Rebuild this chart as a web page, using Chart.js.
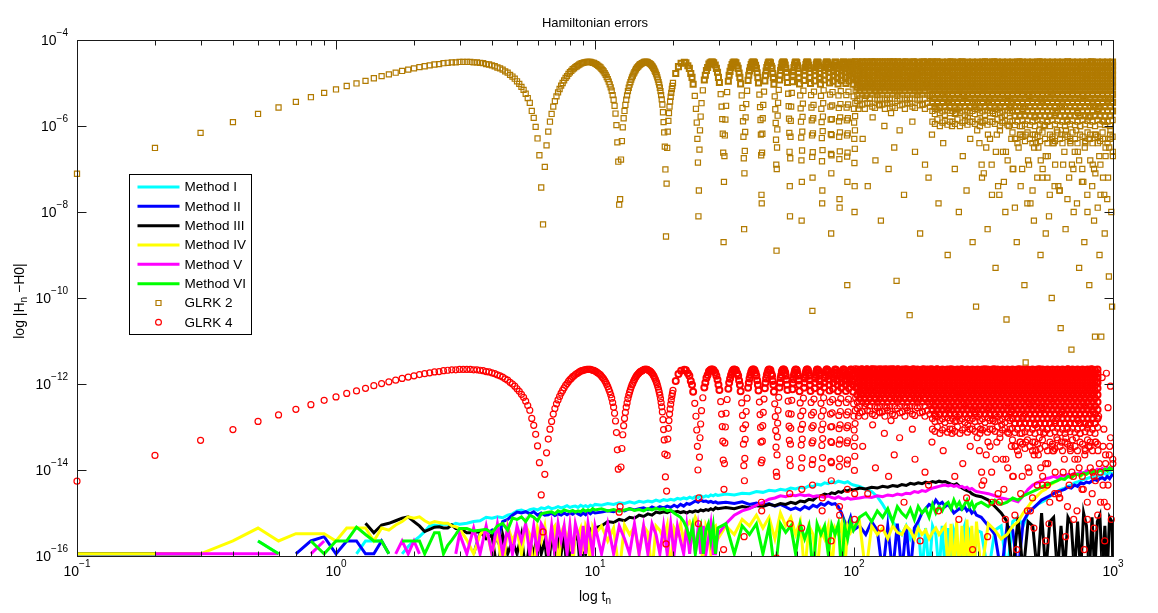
<!DOCTYPE html>
<html>
<head>
<meta charset="utf-8">
<title>Hamiltonian errors</title>
<script src="https://cdn.jsdelivr.net/npm/chart.js@4.4.1/dist/chart.umd.min.js"></script>
<style>
  html, body { margin: 0; padding: 0; background: #fff; }
  #wrap { width: 1158px; height: 613px; }
</style>
</head>
<body>
<div id="wrap"><canvas id="errChart" width="1158" height="613"></canvas></div>
<script>
// all values are log10 |H_n - H0|
const dt = 0.1; // integrator step, GLRK samples below start at t = dt

// time grid used for the six methods
const methodT = [
  0.1,0.2,0.3,0.4,0.5,0.6,0.7,0.8,0.9,1,1.1,1.2,1.3,1.4,1.5,1.6,1.7,1.8,1.9,2,2.1,2.2,2.3,2.4,2.5,2.6,2.7,2.8,2.9,3,
  3.2,3.4,3.6,3.8,4,4.2,4.4,4.6,4.8,5,5.2,5.4,5.6,5.8,6,6.2,6.4,6.6,6.8,7,7.2,7.4,7.6,7.8,8,8.2,8.4,8.6,8.8,9,9.2,9.4,9.6,9.8,10,
  10.6,11.2,11.8,12.4,13,13.6,14.2,14.8,15.4,16,16.6,17.2,17.8,18.4,19,19.6,20.2,20.8,21.4,22,22.6,23.2,23.8,24.4,25,25.6,26.2,26.8,27.4,28,28.6,29.2,29.8,
  32,34.5,37,39.5,42,44.5,47,49.5,52,54.5,57,59.5,62,64.5,67,69.5,72,74.5,77,79.5,82,84.5,87,89.5,92,94.5,97,99.5,
  105,111,117,123,129,135,141,147,153,159,165,171,177,183,189,195,201,207,213,219,225,231,237,243,249,255,261,267,273,279,285,291,297,
  310,330,350,370,390,410,430,450,470,490,510,530,550,570,590,610,630,650,670,690,710,730,750,770,790,810,830,850,870,890,910,930,950,970,990,1000
];

const method1 = [
  -15.95,-15.95,-15.95,null,-15.65,-15.95,null,null,null,null,null,-15.95,-15.65,-15.65,-15.65,null,null,-15.95,-15.78,-15.65,-15.55,-15.43,-15.3,-15.28,-15.3,-15.26,-15.26,-15.28,-15.24,-15.26,
  -15.24,-15.2,-15.18,-15.1,-15.12,-15.09,-15.11,-15.05,-15.02,-14.95,-14.93,-14.97,-14.92,-14.9,-14.93,-14.88,-14.9,-14.86,-14.9,-14.88,-14.85,-14.88,-14.86,-14.83,-14.87,-14.85,-14.84,-14.87,-14.82,-14.85,-14.83,-14.86,-14.82,-14.84,-14.8,
  -14.82,-14.78,-14.8,-14.76,-14.78,-14.74,-14.77,-14.73,-14.75,-14.72,-14.74,-14.7,-14.73,-14.69,-14.71,-14.68,-14.7,-14.66,-14.68,-14.65,-14.67,-14.63,-14.66,-14.62,-14.64,-14.6,-14.63,-14.6,-14.62,-14.58,-14.6,-14.57,-14.59,
  -14.56,-14.58,-14.54,-14.55,-14.5,-14.52,-14.47,-14.49,-14.45,-14.47,-14.42,-14.44,-14.4,-14.42,-14.37,-14.39,-14.33,-14.35,-14.3,-14.32,-14.27,-14.3,-14.26,-14.28,-14.3,-14.27,-14.32,-14.35,
  -14.38,-14.45,-14.5,-14.62,-14.8,-15.0,-15.2,-15.35,-15.5,-15.3,-15.6,-15.4,-15.3,-16.4,-15.35,-16.4,-15.3,-15.5,-16.4,-15.3,-16.4,-15.35,-16.4,-15.4,-15.6,-16.4,-15.5,-15.3,-16.4,-15.4,-15.5,-16.4,-15.4,
  -15.45,-16.4,-15.4,-15.3,-16.4,-15.2,-15.1,-15.3,-15.0,-14.9,-14.8,-14.75,-14.7,-14.62,-14.55,-14.5,-14.45,-14.42,-14.38,-14.35,-14.3,-14.28,-14.25,-14.22,-14.2,-14.18,-14.15,-14.2,-14.12,-14.15,-14.1,-14.08,-14.12,-14.05,-14.08,-14.1
];
const method2 = [
  -15.95,-15.95,-15.95,null,null,null,-15.95,-15.65,-15.55,-15.95,-15.65,-15.65,-15.95,-15.95,-15.65,-15.95,null,null,null,null,null,-15.95,null,null,-15.95,null,null,null,null,null,
  null,-15.95,-15.45,-15.5,-15.4,-15.65,-15.2,-15.15,-15.05,-14.98,-15.0,-14.97,-15.02,-14.97,-15.05,-15.0,-15.05,-15.04,-15.0,-15.06,-15.02,-15.05,-15.0,-15.04,-15.0,-15.03,-14.98,-15.02,-15.05,-15.0,-15.04,-14.98,-15.02,-14.97,-15.0,
  -14.98,-14.95,-14.97,-14.92,-14.95,-14.9,-14.93,-14.9,-14.88,-14.92,-14.86,-14.9,-14.85,-14.88,-14.84,-14.87,-14.82,-14.86,-14.8,-14.84,-14.78,-14.8,-14.76,-14.72,-14.75,-14.7,-14.73,-14.72,-14.75,-14.73,-14.76,-14.74,-14.77,
  -14.75,-14.78,-14.74,-14.8,-14.77,-14.82,-14.78,-14.84,-14.8,-14.86,-14.92,-14.88,-14.93,-14.85,-14.9,-14.82,-14.86,-14.78,-14.82,-14.75,-14.8,-14.78,-14.85,-15.0,-15.2,-15.3,-15.1,-15.4,
  -15.3,-15.5,-15.2,-15.4,-16.4,-15.3,-16.4,-15.25,-16.4,-15.3,-16.4,-15.35,-15.2,-15.0,-14.9,-14.8,-14.85,-14.7,-14.8,-14.75,-14.85,-14.8,-14.9,-15.0,-14.95,-14.9,-14.92,-14.85,-14.95,-14.9,-15.0,-14.95,-15.05,
  -15.1,-15.3,-15.5,-16.4,-15.3,-15.4,-16.4,-15.2,-15.0,-14.9,-14.8,-14.7,-14.65,-14.6,-14.55,-14.5,-14.48,-14.45,-14.4,-14.42,-14.35,-14.38,-14.3,-14.32,-14.28,-14.3,-14.25,-14.22,-14.25,-14.2,-14.18,-14.22,-14.15,-14.2,-14.12,-14.15
];
const method3 = [
  -15.95,-15.95,-15.95,null,null,null,null,null,null,null,null,null,-15.24,-15.46,-15.28,-15.24,-15.18,-15.12,-15.09,-15.2,-15.3,-15.43,-15.38,-15.33,-15.32,-15.35,-15.35,-15.28,-15.36,-15.36,
  -15.46,-15.46,-15.43,-15.6,-15.51,-16.4,-15.5,-15.95,-15.65,-15.95,-15.5,-16.4,-15.65,-15.95,-15.5,-15.95,-15.65,-16.4,-15.48,-15.95,-15.65,-15.95,-15.5,-16.4,-15.65,-15.95,-15.48,-15.65,-16.4,-15.5,-15.95,-15.6,-15.4,-15.5,-15.35,
  -15.3,-15.2,-15.22,-15.15,-15.18,-15.1,-15.12,-15.05,-15.08,-15.02,-15.05,-14.98,-15.0,-14.97,-14.99,-14.95,-14.98,-14.96,-14.99,-14.97,-15.0,-14.96,-14.98,-14.95,-14.97,-14.93,-14.95,-14.92,-14.94,-14.9,-14.93,-14.88,-14.9,
  -14.87,-14.9,-14.85,-14.88,-14.83,-14.85,-14.8,-14.83,-14.78,-14.8,-14.75,-14.78,-14.72,-14.74,-14.68,-14.7,-14.62,-14.6,-14.56,-14.58,-14.53,-14.55,-14.5,-14.52,-14.47,-14.49,-14.45,-14.47,
  -14.42,-14.44,-14.4,-14.42,-14.38,-14.4,-14.36,-14.38,-14.34,-14.36,-14.31,-14.33,-14.3,-14.32,-14.28,-14.3,-14.27,-14.29,-14.26,-14.28,-14.27,-14.3,-14.33,-14.35,-14.32,-14.38,-14.42,-14.45,-14.48,-14.5,-14.55,-14.58,-14.6,
  -14.62,-14.7,-14.85,-15.0,-15.2,-16.4,-15.1,-16.4,-15.2,-15.3,-16.4,-15.0,-16.4,-15.2,-15.1,-16.4,-15.3,-16.4,-15.1,-15.25,-16.4,-15.2,-16.4,-15.0,-15.3,-16.4,-15.1,-16.4,-15.2,-15.05,-16.4,-15.3,-16.4,-15.1,-15.2,-16.4
];
const method4 = [
  -15.95,-15.95,-15.95,-15.65,-15.35,-15.65,-15.48,-15.48,-15.48,-15.65,-15.35,-15.35,-15.35,-15.65,-15.35,-15.4,-15.28,-15.2,-15.09,-15.12,-15.09,-15.18,-15.24,-15.2,-15.22,-15.24,-15.24,-15.3,-15.32,-15.36,
  -15.63,-15.95,-15.5,-15.35,-15.95,-15.45,-16.4,-15.3,-15.65,-15.4,-15.95,-15.3,-15.5,-16.4,-15.35,-15.65,-15.3,-15.95,-15.4,-15.3,-16.4,-15.45,-15.3,-15.65,-15.35,-16.4,-15.3,-15.5,-15.35,-15.95,-15.3,-15.45,-16.4,-15.35,-15.5,
  -15.3,-15.65,-15.35,-16.4,-15.28,-15.5,-15.32,-15.95,-15.3,-15.45,-16.4,-15.3,-15.4,-15.6,-15.28,-16.4,-15.35,-15.5,-15.25,-15.65,-15.3,-15.2,-15.35,-15.1,-15.25,-15.5,-16.4,-15.3,-15.45,-15.95,-15.35,-15.3,-15.6,
  -15.3,-15.5,-15.15,-15.3,-15.05,-15.35,-15.1,-15.6,-15.0,-15.3,-15.1,-15.5,-15.2,-16.4,-15.3,-15.5,-16.4,-15.4,-15.6,-15.3,-16.4,-15.35,-15.5,-15.25,-16.4,-15.3,-15.45,-15.3,
  -15.2,-16.4,-15.3,-15.5,-15.35,-15.6,-15.3,-15.45,-15.5,-15.3,-15.4,-15.6,-15.35,-15.5,-15.4,-15.6,-15.45,-15.35,-15.5,-15.4,-15.3,-16.4,-15.25,-16.4,-15.2,-16.4,-15.3,-16.4,-15.15,-16.4,-15.3,-16.4,-15.2,
  -16.4,-15.25,-15.4,-15.6,-15.5,-15.3,-15.2,-15.0,-14.85,-14.7,-14.6,-14.5,-14.45,-14.35,-14.3,-14.25,-14.2,-14.22,-14.15,-14.18,-14.12,-14.1,-14.15,-14.08,-14.1,-14.05,-14.08,-14.02,-14.05,-14.0,-14.03,-13.98,-14.02,-13.97,-14.0,-13.98
];
const method5 = [
  null,-15.95,-15.95,-15.95,-15.95,-15.95,null,-15.95,-15.65,null,null,null,null,null,null,null,-15.95,-15.65,-15.95,-15.65,-15.95,null,null,null,null,null,null,null,-15.95,-15.48,
  -15.95,-15.35,-15.95,-15.3,-15.95,-15.25,-15.95,-15.35,-15.95,-15.3,-15.65,-15.25,-15.95,-15.3,-15.95,-15.25,-15.4,-15.95,-15.3,-15.95,-15.25,-15.65,-15.3,-15.95,-15.3,-15.95,-15.25,-15.5,-15.95,-15.3,-15.95,-15.25,-15.6,-15.95,-15.3,
  -15.95,-15.25,-15.95,-15.3,-15.6,-15.95,-15.25,-15.95,-15.3,-15.95,-15.25,-15.5,-15.95,-15.3,-15.95,-15.25,-15.95,-15.3,-15.65,-15.95,-15.3,-15.95,-15.25,-15.95,-15.35,-15.95,-15.3,-15.95,-15.6,-15.25,-15.95,-15.95,-15.5,
  -15.25,-15.05,-14.95,-14.9,-14.82,-14.75,-14.68,-14.65,-14.6,-14.62,-14.58,-14.6,-14.57,-14.6,-14.58,-14.62,-14.6,-14.62,-14.64,-14.6,-14.64,-14.66,-14.62,-14.66,-14.68,-14.65,-14.68,-14.67,
  -14.65,-14.62,-14.64,-14.6,-14.62,-14.58,-14.6,-14.56,-14.58,-14.54,-14.55,-14.5,-14.52,-14.48,-14.5,-14.45,-14.42,-14.4,-14.38,-14.36,-14.35,-14.37,-14.35,-14.38,-14.36,-14.4,-14.38,-14.42,-14.4,-14.45,-14.43,-14.47,-14.5,
  -14.52,-14.55,-14.6,-14.65,-14.68,-14.7,-14.74,-14.6,-14.45,-14.35,-14.3,-14.25,-14.2,-14.18,-14.15,-14.18,-14.12,-14.15,-14.1,-14.12,-14.08,-14.1,-14.05,-14.08,-14.02,-14.05,-14.0,-14.03,-13.98,-14.0,-13.96,-14.0,-13.95,-13.98,-13.94,-13.96
];
const method6 = [
  -15.95,null,null,null,-15.65,-15.95,null,-15.65,-15.95,-15.65,-15.65,-15.33,-15.5,-15.65,-15.65,-15.95,null,-15.65,-15.65,-15.65,-15.65,-15.95,-15.7,-15.46,-15.46,-15.95,-15.75,-15.63,-15.5,-15.36,
  -15.36,-15.42,-15.4,-15.38,-15.46,-15.3,-15.24,-15.4,-15.12,-15.15,-15.09,-15.2,-15.05,-15.1,-15.18,-15.02,-15.0,-14.98,-14.97,-15.02,-14.95,-14.98,-14.93,-14.95,-14.97,-14.94,-14.98,-14.95,-14.97,-14.92,-14.96,-14.93,-14.95,-14.9,-14.93,
  -14.9,-14.95,-14.92,-14.96,-14.93,-14.9,-14.94,-14.92,-14.95,-14.9,-14.93,-14.89,-14.92,-14.9,-14.95,-14.93,-15.0,-15.05,-15.1,-15.2,-15.35,-15.6,-15.3,-15.95,-15.5,-15.3,-15.95,-15.4,-15.25,-15.65,-15.3,-15.95,-15.35,
  -15.25,-15.95,-15.3,-15.5,-15.25,-15.95,-15.3,-16.4,-15.25,-15.45,-15.3,-15.95,-15.25,-15.6,-15.3,-16.4,-15.25,-15.5,-15.3,-15.95,-15.28,-15.5,-15.25,-16.4,-15.3,-15.6,-15.2,-15.4,
  -15.1,-15.0,-15.2,-14.95,-15.1,-14.9,-15.2,-14.85,-15.0,-15.1,-14.9,-15.15,-14.85,-15.0,-14.9,-15.1,-14.8,-15.0,-14.85,-14.95,-14.8,-14.75,-14.9,-14.7,-14.85,-14.75,-14.9,-14.8,-14.7,-14.85,-14.75,-14.9,-14.8,
  -14.75,-14.85,-14.7,-14.8,-14.75,-14.65,-14.7,-14.6,-14.55,-14.5,-14.45,-14.4,-14.35,-14.32,-14.28,-14.25,-14.2,-14.22,-14.15,-14.18,-14.12,-14.1,-14.13,-14.07,-14.1,-14.05,-14.08,-14.02,-14.05,-14.0,-14.03,-13.98,-14.02,-13.95,-13.98,-13.97
];

// GLRK errors for every step t = 0.1 ... 20.0
const glrk2Early = [
  -7.11,-6.51,-6.16,-5.91,-5.72,-5.57,-5.44,-5.33,-5.23,-5.15,-5.07,-5.01,-4.95,-4.89,-4.84,-4.80,-4.76,-4.72,-4.69,-4.66,
  -4.63,-4.61,-4.59,-4.57,-4.56,-4.54,-4.53,-4.52,-4.52,-4.51,-4.51,-4.51,-4.51,-4.52,-4.52,-4.53,-4.54,-4.56,-4.57,-4.59,
  -4.61,-4.64,-4.66,-4.69,-4.73,-4.76,-4.81,-4.85,-4.90,-4.96,-5.02,-5.09,-5.16,-5.25,-5.35,-5.46,-5.65,-5.81,-6.02,-6.29,
  -6.68,-7.43,-8.29,-6.95,-6.45,-6.13,-5.90,-5.72,-5.55,-5.42,-5.31,-5.22,-5.14,-5.06,-5.00,-4.94,-4.88,-4.84,-4.79,-4.75,
  -4.72,-4.68,-4.66,-4.63,-4.61,-4.59,-4.57,-4.55,-4.54,-4.53,-4.52,-4.52,-4.51,-4.51,-4.51,-4.51,-4.52,-4.53,-4.53,-4.55,
  -4.56,-4.58,-4.60,-4.62,-4.64,-4.67,-4.70,-4.73,-4.77,-4.81,-4.86,-4.91,-4.97,-5.03,-5.10,-5.18,-5.28,-5.39,-5.53,-5.71,
  -5.98,-6.38,-6.83,-7.83,-7.70,-6.78,-6.35,-6.03,-5.82,-5.65,-5.51,-5.39,-5.29,-5.19,-5.11,-5.04,-4.98,-4.92,-4.87,-4.83,
  -4.78,-4.75,-4.71,-4.68,-4.65,-4.63,-4.61,-4.59,-4.57,-4.56,-4.55,-4.54,-4.53,-4.52,-4.51,-4.51,-4.51,-4.51,-4.51,-4.52,
  -4.53,-4.54,-4.55,-4.56,-4.58,-4.60,-4.62,-4.65,-4.67,-4.71,-4.74,-4.78,-4.82,-4.87,-4.92,-4.98,-5.04,-5.11,-5.19,-5.28,
  -5.38,-5.50,-5.68,-5.91,-6.15,-6.48,-7.01,-8.57,-7.34,-6.51,-6.13,-5.88,-5.70,-5.55,-5.43,-5.32,-5.23,-5.14,-5.07,-5.00
];
const glrk4Early = [
  -14.26,-13.66,-13.31,-13.06,-12.87,-12.72,-12.59,-12.48,-12.38,-12.30,-12.22,-12.16,-12.10,-12.04,-11.99,-11.95,-11.91,-11.87,-11.84,-11.81,
  -11.78,-11.76,-11.74,-11.72,-11.71,-11.69,-11.68,-11.67,-11.67,-11.66,-11.66,-11.66,-11.66,-11.67,-11.67,-11.68,-11.69,-11.71,-11.72,-11.74,
  -11.76,-11.79,-11.81,-11.84,-11.88,-11.91,-11.96,-12.00,-12.05,-12.11,-12.17,-12.24,-12.31,-12.40,-12.50,-12.61,-12.80,-12.96,-13.17,-13.44,
  -13.83,-14.58,-15.44,-14.10,-13.60,-13.28,-13.05,-12.87,-12.70,-12.57,-12.46,-12.37,-12.29,-12.21,-12.15,-12.09,-12.03,-11.99,-11.94,-11.90,
  -11.87,-11.83,-11.81,-11.78,-11.76,-11.74,-11.72,-11.70,-11.69,-11.68,-11.67,-11.67,-11.66,-11.66,-11.66,-11.66,-11.67,-11.68,-11.68,-11.70,
  -11.71,-11.73,-11.75,-11.77,-11.79,-11.82,-11.85,-11.88,-11.92,-11.96,-12.01,-12.06,-12.12,-12.18,-12.25,-12.33,-12.43,-12.54,-12.68,-12.86,
  -13.13,-13.53,-13.98,-14.98,-14.85,-13.93,-13.50,-13.18,-12.97,-12.80,-12.66,-12.54,-12.44,-12.34,-12.26,-12.19,-12.13,-12.07,-12.02,-11.98,
  -11.93,-11.90,-11.86,-11.83,-11.80,-11.78,-11.76,-11.74,-11.72,-11.71,-11.70,-11.69,-11.68,-11.67,-11.66,-11.66,-11.66,-11.66,-11.66,-11.67,
  -11.68,-11.69,-11.70,-11.71,-11.73,-11.75,-11.77,-11.80,-11.82,-11.86,-11.89,-11.93,-11.97,-12.02,-12.07,-12.13,-12.19,-12.26,-12.34,-12.43,
  -12.53,-12.65,-12.83,-13.06,-13.30,-13.63,-14.16,-15.72,-14.49,-13.66,-13.28,-13.03,-12.85,-12.70,-12.58,-12.47,-12.38,-12.29,-12.22,-12.15
];

// GLRK samples picked out of the arches between t = 20 and 103 (legs and dips)
const archT = [
  20.5,21,21.5,
  22.13,22.83,23.43,23.93,24.28,24.53,24.71,24.85,24.97,25.08,25.18,25.31,25.43,25.58,25.78,26.08,26.43,26.93,27.53,
  28.42,29.12,29.72,30.22,30.57,30.82,31.0,31.14,31.26,31.37,31.47,31.6,31.72,31.87,32.07,32.37,32.72,33.22,33.82,
  34.7,35.4,36.0,36.5,36.85,37.1,37.28,37.42,37.54,37.65,37.75,37.88,38.0,38.15,38.35,38.65,39.0,39.5,40.1,
  40.98,41.68,42.28,42.78,43.13,43.38,43.56,43.7,43.82,43.93,44.03,44.16,44.28,44.43,44.63,44.93,45.28,45.78,46.38,
  47.27,47.97,48.57,49.07,49.42,49.67,49.85,49.99,50.11,50.22,50.32,50.45,50.57,50.72,50.92,51.22,51.57,52.07,52.67,
  53.55,54.25,54.85,55.35,55.7,55.95,56.13,56.27,56.39,56.5,56.6,56.73,56.85,57.0,57.2,57.5,57.85,58.35,58.95,
  59.83,60.53,61.13,61.63,61.98,62.23,62.41,62.55,62.67,62.78,62.88,63.01,63.13,63.28,63.48,63.78,64.13,64.63,65.23,
  66.12,66.82,67.42,67.92,68.27,68.52,68.7,68.84,68.96,69.07,69.17,69.3,69.42,69.57,69.77,70.07,70.42,70.92,71.52,
  72.4,73.1,73.7,74.2,74.55,74.8,74.98,75.12,75.24,75.35,75.45,75.58,75.7,75.85,76.05,76.35,76.7,77.2,77.8,
  78.68,79.38,79.98,80.48,80.83,81.08,81.26,81.4,81.52,81.63,81.73,81.86,81.98,82.13,82.33,82.63,82.98,83.48,84.08,
  84.96,85.66,86.26,86.76,87.11,87.36,87.54,87.68,87.8,87.91,88.01,88.14,88.26,88.41,88.61,88.91,89.26,89.76,90.36,
  91.25,91.95,92.55,93.05,93.4,93.65,93.83,93.97,94.09,94.2,94.3,94.43,94.55,94.7,94.9,95.2,95.55,96.05,96.65,
  97.53,98.23,98.83,99.33,99.68,99.93,100.11,100.25,100.37,100.48,100.58,100.71,100.83,100.98,101.18,101.48,101.83,102.33,102.93
];
const glrk2Arch = [
  -4.78,-4.62,-4.54,
  -4.52,-4.60,-4.78,-5.03,-5.30,-5.60,-5.92,-6.30,-6.85,-8.10,-7.50,-6.55,-6.10,-5.78,-5.47,-5.17,-4.93,-4.71,-4.56,
  -4.51,-4.58,-4.75,-4.99,-5.26,-5.55,-5.84,-6.18,-6.62,-8.70,-7.30,-6.70,-6.22,-5.85,-5.53,-5.21,-4.96,-4.73,-4.57,
  -4.52,-4.60,-4.77,-5.02,-5.29,-5.58,-5.89,-6.25,-6.75,-8.40,-7.10,-6.58,-6.14,-5.80,-5.49,-5.18,-4.94,-4.72,-4.57,
  -4.51,-4.59,-4.76,-5.00,-5.27,-5.56,-5.86,-6.20,-6.68,-7.60,-7.80,-6.62,-6.18,-5.82,-5.51,-5.20,-4.95,-4.72,-4.58,
  -4.52,-4.61,-4.78,-5.03,-5.31,-5.61,-5.93,-6.32,-6.90,-8.90,-7.00,-6.50,-6.08,-5.76,-5.46,-5.16,-4.93,-4.71,-4.56,
  -4.51,-4.58,-4.75,-4.99,-5.25,-5.54,-5.83,-6.16,-6.60,-7.40,-8.10,-6.75,-6.25,-5.88,-5.55,-5.23,-4.97,-4.74,-4.58,
  -4.52,-4.60,-4.77,-5.02,-5.29,-5.59,-5.90,-6.27,-6.80,-8.20,-7.30,-6.57,-6.13,-5.79,-5.48,-5.18,-4.94,-4.72,-4.57,
  -4.51,-4.59,-4.76,-5.01,-5.28,-5.57,-5.87,-6.22,-6.72,-10.30,-7.20,-6.61,-6.17,-5.82,-5.51,-5.20,-4.95,-4.72,-4.57,
  -4.52,-4.60,-4.78,-5.03,-5.30,-5.60,-5.91,-6.28,-6.82,-7.80,-7.50,-6.56,-6.12,-5.78,-5.47,-5.17,-4.93,-4.71,-4.56,
  -4.51,-4.58,-4.75,-5.00,-5.27,-5.55,-5.85,-6.19,-6.65,-8.50,-7.10,-6.68,-6.21,-5.84,-5.52,-5.21,-4.96,-4.73,-4.58,
  -4.52,-4.60,-4.77,-5.02,-5.29,-5.58,-5.89,-6.25,-6.77,-7.70,-7.90,-6.59,-6.15,-5.80,-5.49,-5.19,-4.94,-4.72,-4.57,
  -4.51,-4.59,-4.76,-5.01,-5.28,-5.57,-5.87,-6.22,-6.71,-9.70,-7.30,-6.62,-6.17,-5.82,-5.50,-5.20,-4.95,-4.72,-4.57,
  -4.52,-4.61,-4.78,-5.03,-5.31,-5.60,-5.92,-6.30,-6.86,-8.00,-7.40,-6.53,-6.10,-5.77,-5.47,-5.17,-4.93,-4.71,-4.56
];
const glrk4Arch = [
  -11.93,-11.77,-11.69,
  -11.67,-11.75,-11.93,-12.18,-12.45,-12.75,-13.07,-13.45,-14.00,-15.25,-14.65,-13.70,-13.25,-12.93,-12.62,-12.32,-12.08,-11.86,-11.71,
  -11.66,-11.73,-11.90,-12.14,-12.41,-12.70,-12.99,-13.33,-13.77,-15.85,-14.45,-13.85,-13.37,-13.00,-12.68,-12.36,-12.11,-11.88,-11.72,
  -11.67,-11.75,-11.92,-12.17,-12.44,-12.73,-13.04,-13.40,-13.90,-15.55,-14.25,-13.73,-13.29,-12.95,-12.64,-12.33,-12.09,-11.87,-11.72,
  -11.66,-11.74,-11.91,-12.15,-12.42,-12.71,-13.01,-13.35,-13.83,-14.75,-14.95,-13.77,-13.33,-12.97,-12.66,-12.35,-12.10,-11.87,-11.73,
  -11.67,-11.76,-11.93,-12.18,-12.46,-12.76,-13.08,-13.47,-14.05,-16.05,-14.15,-13.65,-13.23,-12.91,-12.61,-12.31,-12.08,-11.86,-11.71,
  -11.66,-11.73,-11.90,-12.14,-12.40,-12.69,-12.98,-13.31,-13.75,-14.55,-15.25,-13.90,-13.40,-13.03,-12.70,-12.38,-12.12,-11.89,-11.73,
  -11.67,-11.75,-11.92,-12.17,-12.44,-12.74,-13.05,-13.42,-13.95,-15.35,-14.45,-13.72,-13.28,-12.94,-12.63,-12.33,-12.09,-11.87,-11.72,
  -11.66,-11.74,-11.91,-12.16,-12.43,-12.72,-13.02,-13.37,-13.87,-17.45,-14.35,-13.76,-13.32,-12.97,-12.66,-12.35,-12.10,-11.87,-11.72,
  -11.67,-11.75,-11.93,-12.18,-12.45,-12.75,-13.06,-13.43,-13.97,-14.95,-14.65,-13.71,-13.27,-12.93,-12.62,-12.32,-12.08,-11.86,-11.71,
  -11.66,-11.73,-11.90,-12.15,-12.42,-12.70,-13.00,-13.34,-13.80,-15.65,-14.25,-13.83,-13.36,-12.99,-12.67,-12.36,-12.11,-11.88,-11.73,
  -11.67,-11.75,-11.92,-12.17,-12.44,-12.73,-13.04,-13.40,-13.92,-14.85,-15.05,-13.74,-13.30,-12.95,-12.64,-12.34,-12.09,-11.87,-11.72,
  -11.66,-11.74,-11.91,-12.16,-12.43,-12.72,-13.02,-13.37,-13.86,-16.85,-14.45,-13.77,-13.32,-12.97,-12.65,-12.35,-12.10,-11.87,-11.72,
  -11.67,-11.76,-11.93,-12.18,-12.46,-12.75,-13.07,-13.45,-14.01,-15.15,-14.55,-13.68,-13.25,-12.92,-12.62,-12.32,-12.08,-11.86,-11.71
];

// samples around the tops of the same arches
const archTopT = [
  22.44,23.14,23.69,
  26.67,27.22,27.82,28.12,28.72,29.42,29.97,
  32.96,33.51,34.11,34.41,35.01,35.71,36.26,
  39.24,39.79,40.39,40.69,41.29,41.99,42.54,
  45.52,46.07,46.67,46.97,47.57,48.27,48.82,
  51.81,52.36,52.96,53.26,53.86,54.56,55.11,
  58.09,58.64,59.24,59.54,60.14,60.84,61.39,
  64.37,64.92,65.52,65.82,66.42,67.12,67.67,
  70.66,71.21,71.81,72.11,72.71,73.41,73.96,
  76.94,77.49,78.09,78.39,78.99,79.69,80.24,
  83.22,83.77,84.37,84.67,85.27,85.97,86.52,
  89.51,90.06,90.66,90.96,91.56,92.26,92.81,
  95.79,96.34,96.94,97.24,97.84,98.54,99.09
];
const glrk2ArchTop = [
  -4.53,-4.66,-4.87,
  -4.82,-4.64,-4.53,-4.51,-4.53,-4.66,-4.87,
  -4.82,-4.64,-4.53,-4.51,-4.53,-4.66,-4.87,
  -4.82,-4.64,-4.53,-4.51,-4.53,-4.66,-4.87,
  -4.82,-4.64,-4.53,-4.51,-4.53,-4.66,-4.87,
  -4.82,-4.64,-4.53,-4.51,-4.53,-4.66,-4.87,
  -4.82,-4.64,-4.53,-4.51,-4.53,-4.66,-4.87,
  -4.82,-4.64,-4.53,-4.51,-4.53,-4.66,-4.87,
  -4.82,-4.64,-4.53,-4.51,-4.53,-4.66,-4.87,
  -4.82,-4.64,-4.53,-4.51,-4.53,-4.66,-4.87,
  -4.82,-4.64,-4.53,-4.51,-4.53,-4.66,-4.87,
  -4.82,-4.64,-4.53,-4.51,-4.53,-4.66,-4.87,
  -4.82,-4.64,-4.53,-4.51,-4.53,-4.66,-4.87
];
const glrk4ArchTop = [
  -11.68,-11.81,-12.02,
  -11.97,-11.79,-11.68,-11.66,-11.68,-11.81,-12.02,
  -11.97,-11.79,-11.68,-11.66,-11.68,-11.81,-12.02,
  -11.97,-11.79,-11.68,-11.66,-11.68,-11.81,-12.02,
  -11.97,-11.79,-11.68,-11.66,-11.68,-11.81,-12.02,
  -11.97,-11.79,-11.68,-11.66,-11.68,-11.81,-12.02,
  -11.97,-11.79,-11.68,-11.66,-11.68,-11.81,-12.02,
  -11.97,-11.79,-11.68,-11.66,-11.68,-11.81,-12.02,
  -11.97,-11.79,-11.68,-11.66,-11.68,-11.81,-12.02,
  -11.97,-11.79,-11.68,-11.66,-11.68,-11.81,-12.02,
  -11.97,-11.79,-11.68,-11.66,-11.68,-11.81,-12.02,
  -11.97,-11.79,-11.68,-11.66,-11.68,-11.81,-12.02,
  -11.97,-11.79,-11.68,-11.66,-11.68,-11.81,-12.02
];

// scattered GLRK samples for t > 100 where the arches merge
const lateT = [
  101,102,103,104,105,106,107,108,109,110,111,112,113,114,115,116,117,118,119,120,121,122,123,124,125,
  126,127,128,129,130,131,132,133,134,135,136,137,138,139,140,141,142,143,144,145,146,147,148,149,150,
  152,154,156,158,160,162,164,166,168,170,172,174,176,178,180,182,184,186,188,190,192,194,196,198,200,
  203,206,209,212,215,218,221,224,227,230,233,236,239,242,245,248,251,254,257,260,263,266,269,272,275,278,281,284,287,290,293,296,299,
  304,308,312,316,320,324,328,332,336,340,344,348,352,356,360,364,368,372,376,380,384,388,392,396,400,
  405,410,415,420,425,430,435,440,445,450,455,460,465,470,475,480,485,490,495,500,
  505,510,515,520,525,530,535,540,545,550,555,560,565,570,575,580,585,590,595,600,
  607,614,621,628,635,642,649,656,663,670,677,684,691,698,705,712,719,726,733,740,747,754,761,768,775,782,789,796,
  803,810,817,824,831,838,845,852,859,866,873,880,887,894,901,908,915,922,929,936,943,950,957,964,971,978,985,992,999
];
const glrk2Late = [
  -4.5,-4.9,-4.6,-5.6,-4.7,-5.1,-4.5,-6.3,-4.8,-4.6,-5.3,-4.5,-7.4,-4.9,-4.6,-5.0,-4.5,-5.8,-4.7,-4.5,-6.8,-5.2,-4.6,-4.8,-5.5,
  -4.5,-8.2,-4.7,-5.0,-4.6,-6.0,-4.5,-4.9,-5.4,-4.6,-7.0,-4.8,-4.5,-5.7,-4.7,-5.1,-4.5,-6.5,-4.9,-4.6,-9.6,-5.2,-4.5,-4.8,-6.1,
  -4.6,-5.0,-7.6,-4.5,-5.4,-4.7,-10.4,-4.9,-5.9,-4.5,-6.6,-4.8,-5.2,-4.6,-8.5,-4.7,-5.5,-4.5,-6.9,-5.0,-4.6,-7.2,-5.3,-4.5,-6.2,
  -4.8,-5.6,-4.5,-7.8,-5.0,-4.6,-6.4,-5.2,-4.7,-9.0,-5.4,-4.5,-6.0,-4.9,-7.0,-5.7,-4.6,-8.0,-5.1,-4.5,-6.7,-5.3,-4.8,-7.5,-5.8,-4.6,-6.3,-5.0,-8.7,-4.7,-5.5,-10.2,-6.1,
  -4.6,-5.9,-7.2,-5.1,-4.5,-6.5,-8.4,-5.4,-4.7,-6.9,-5.7,-4.5,-9.3,-6.2,-5.0,-7.6,-4.6,-5.8,-6.6,-4.8,-8.0,-10.5,-5.3,-6.0,-4.6,
  -5.5,-7.0,-4.7,-6.3,-8.7,-5.1,-4.5,-7.4,-6.0,-5.6,-9.7,-11.5,-4.8,-6.8,-5.3,-7.8,-4.6,-6.2,-8.2,-5.8,
  -4.9,-7.2,-6.5,-4.5,-9.0,-5.4,-7.0,-6.0,-4.7,-8.5,-5.9,-6.7,-4.6,-7.6,-5.2,-10.0,-6.4,-4.8,-7.4,-5.7,
  -6.1,-4.6,-7.5,-10.7,-5.5,-6.9,-4.8,-8.4,-5.9,-4.5,-7.2,-6.3,-11.2,-5.1,-8.0,-6.6,-4.7,-7.8,-5.7,-9.3,-6.0,-4.6,-7.0,-5.3,-8.7,-6.4,-4.9,-7.6,
  -5.8,-9.7,-6.8,-4.5,-7.4,-5.5,-8.2,-10.9,-6.2,-4.8,-7.9,-5.6,-9.0,-6.9,-10.9,-4.7,-7.2,-5.9,-8.5,-6.5,-4.6,-7.7,-5.4,-9.5,-6.3,-4.9,-8.0,-10.2,-6.7
];
const glrk4Late = [
  -11.65,-12.05,-11.75,-12.75,-11.85,-12.25,-11.65,-13.45,-11.95,-11.75,-12.45,-11.65,-14.55,-12.05,-11.75,-12.15,-11.65,-12.95,-11.85,-11.65,-13.95,-12.35,-11.75,-11.95,-12.65,
  -11.65,-15.35,-11.85,-12.15,-11.75,-13.15,-11.65,-12.05,-12.55,-11.75,-14.15,-11.95,-11.65,-12.85,-11.85,-12.25,-11.65,-13.65,-12.05,-11.75,-16.75,-12.35,-11.65,-11.95,-13.25,
  -11.75,-12.15,-14.75,-11.65,-12.55,-11.85,-17.55,-12.05,-13.05,-11.65,-13.75,-11.95,-12.35,-11.75,-15.65,-11.85,-12.65,-11.65,-14.05,-12.15,-11.75,-14.35,-12.45,-11.65,-13.35,
  -11.95,-12.75,-11.65,-14.95,-12.15,-11.75,-13.55,-12.35,-11.85,-16.15,-12.55,-11.65,-13.15,-12.05,-14.15,-12.85,-11.75,-15.15,-12.25,-11.65,-13.85,-12.45,-11.95,-14.65,-12.95,-11.75,-13.45,-12.15,-15.85,-11.85,-12.65,-17.35,-13.25,
  -11.75,-13.05,-14.35,-12.25,-11.65,-13.65,-15.55,-12.55,-11.85,-14.05,-12.85,-11.65,-16.45,-13.35,-12.15,-14.75,-11.75,-12.95,-13.75,-11.95,-15.15,-17.65,-12.45,-13.15,-11.75,
  -12.65,-14.15,-11.85,-13.45,-15.85,-12.25,-11.65,-14.55,-13.15,-12.75,-16.85,-18.65,-11.95,-13.95,-12.45,-14.95,-11.75,-13.35,-15.35,-12.95,
  -12.05,-14.35,-13.65,-11.65,-16.15,-12.55,-14.15,-13.15,-11.85,-15.65,-13.05,-13.85,-11.75,-14.75,-12.35,-17.15,-13.55,-11.95,-14.55,-12.85,
  -13.25,-11.75,-14.65,-17.85,-12.65,-14.05,-11.95,-15.55,-13.05,-11.65,-14.35,-13.45,-18.35,-12.25,-15.15,-13.75,-11.85,-14.95,-12.85,-16.45,-13.15,-11.75,-14.15,-12.45,-15.85,-13.55,-12.05,-14.75,
  -12.95,-16.85,-13.95,-11.65,-14.55,-12.65,-15.35,-18.05,-13.35,-11.95,-15.05,-12.75,-16.15,-14.05,-18.05,-11.85,-14.35,-13.05,-15.65,-13.65,-11.75,-14.85,-12.55,-16.65,-13.45,-12.05,-15.15,-17.35,-13.85
];

// more of the scatter just under the band, t = 300 ... 1000
const midT = [
  305,317,329,341,353,366,379,392,405,418,432,446,460,474,489,504,519,534,550,566,582,598,615,632,649,667,685,703,721,740,
  759,778,797,816,835,855,875,895,915,936,957,978,998,
  311,335,360,386,412,439,467,496,526,558,590,623,658,694,731,768,806,845,885,925,967
];
const glrk2Mid = [
  -6.4,-7.1,-6.2,-7.6,-6.6,-6.1,-7.3,-6.8,-6.3,-7.9,-6.5,-7.0,-6.2,-6.9,-7.5,-6.4,-6.1,-7.2,-6.7,-8.1,-6.3,-6.9,-7.4,-6.2,-6.6,-7.7,-6.4,-7.0,-6.1,-6.8,
  -7.3,-6.5,-8.0,-6.2,-6.9,-7.1,-6.4,-7.6,-6.3,-6.7,-7.2,-6.1,-6.6,
  -6.9,-6.3,-7.4,-6.6,-7.0,-6.2,-7.8,-6.5,-6.8,-7.2,-6.4,-7.5,-6.1,-6.9,-6.6,-7.3,-6.3,-7.0,-6.7,-7.6,-6.5
];
const glrk4Mid = [
  -13.55,-14.25,-13.35,-14.75,-13.75,-13.25,-14.45,-13.95,-13.45,-15.05,-13.65,-14.15,-13.35,-14.05,-14.65,-13.55,-13.25,-14.35,-13.85,-15.25,-13.45,-14.05,-14.55,-13.35,-13.75,-14.85,-13.55,-14.15,-13.25,-13.95,
  -14.45,-13.65,-15.15,-13.35,-14.05,-14.25,-13.55,-14.75,-13.45,-13.85,-14.35,-13.25,-13.75,
  -14.05,-13.45,-14.55,-13.75,-14.15,-13.35,-14.95,-13.65,-13.95,-14.35,-13.55,-14.65,-13.25,-14.05,-13.75,-14.45,-13.45,-14.15,-13.85,-14.75,-13.65
];

// saturated top band for t > 100: one time per column, the samples stacked in that column
const colT = [
  103,105.3,107.7,110.1,112.6,115.1,117.7,120.4,123.1,125.9,128.7,131.6,134.5,137.6,140.7,143.8,147,150.4,153.7,157.2,
  160.7,164.4,168.1,171.8,175.7,179.6,183.7,187.8,192,196.4,200.8,205.3,209.9,214.6,219.5,224.4,229.5,234.6,239.9,245.3,
  250.8,256.5,262.2,268.1,274.2,280.4,286.6,293.1,299.7,306.4,313.3,320.4,327.6,334.9,342.5,350.2,358,366.1,374.3,382.7,
  391.3,400.1,409.1,418.3,427.7,437.3,447.2,457.2,467.5,478,488.8,499.8,511,522.5,534.2,546.2,558.5,571.1,583.9,597,
  610.5,624.2,638.2,652.6,667.3,682.3,697.6,713.3,729.4,745.8,762.6,779.7,797.3,815.2,833.6,852.3,871.5,891.1,911.2,931.7,
  952.6,974.1,996
];
const glrk2Cols = [
  [-4.51,-4.6,-4.7,-4.82,-4.95,-5.1,-5.27,-5.42],[-4.53,-4.64,-4.76,-4.88,-5.02,-5.18,-5.36,-5.52],
  [-4.51,-4.6,-4.7,-4.82,-4.95,-5.1,-5.27,-5.5],[-4.53,-4.64,-4.76,-4.88,-5.02,-5.18,-5.36,-5.6],
  [-4.51,-4.6,-4.7,-4.82,-4.95,-5.1,-5.27,-5.46],[-4.53,-4.64,-4.76,-4.88,-5.02,-5.18,-5.36,-5.48],
  [-4.51,-4.6,-4.7,-4.82,-4.95,-5.1,-5.27,-5.55],[-4.53,-4.64,-4.76,-4.88,-5.02,-5.18,-5.36,-5.58],
  [-4.51,-4.6,-4.7,-4.82,-4.95,-5.1,-5.27,-5.4],[-4.53,-4.64,-4.76,-4.88,-5.02,-5.18,-5.36,-5.52],
  [-4.51,-4.6,-4.7,-4.82,-4.95,-5.1,-5.27,-5.5],[-4.53,-4.64,-4.76,-4.88,-5.02,-5.18,-5.36,-5.6],
  [-4.51,-4.6,-4.7,-4.82,-4.95,-5.1,-5.27,-5.46],[-4.53,-4.64,-4.76,-4.88,-5.02,-5.18,-5.36,-5.48],
  [-4.51,-4.6,-4.7,-4.82,-4.95,-5.1,-5.27,-5.55],[-4.53,-4.64,-4.76,-4.88,-5.02,-5.18,-5.36,-5.58],
  [-4.51,-4.6,-4.7,-4.82,-4.95,-5.1,-5.27,-5.42],[-4.53,-4.64,-4.76,-4.88,-5.02,-5.18,-5.36,-5.52],
  [-4.51,-4.6,-4.7,-4.82,-4.95,-5.1,-5.27,-5.5],[-4.53,-4.64,-4.76,-4.88,-5.02,-5.18,-5.36,-5.6],
  [-4.51,-4.6,-4.7,-4.82,-4.95,-5.1,-5.27,-5.46],[-4.53,-4.64,-4.76,-4.88,-5.02,-5.18,-5.36,-5.48],
  [-4.51,-4.6,-4.7,-4.82,-4.95,-5.1,-5.27,-5.55],[-4.53,-4.64,-4.76,-4.88,-5.02,-5.18,-5.36,-5.58],
  [-4.51,-4.6,-4.7,-4.82,-4.95,-5.1,-5.27,-5.4],[-4.53,-4.64,-4.76,-4.88,-5.02,-5.18,-5.36,-5.52],
  [-4.51,-4.6,-4.7,-4.82,-4.95,-5.1,-5.27,-5.5],[-4.53,-4.64,-4.76,-4.88,-5.02,-5.18,-5.36,-5.6],
  [-4.51,-4.6,-4.7,-4.82,-4.95,-5.1,-5.27,-5.46],[-4.53,-4.64,-4.76,-4.88,-5.02,-5.18,-5.36,-5.55],
  [-4.51,-4.6,-4.7,-4.82,-4.95,-5.1,-5.27,-5.45,-5.65,-5.9],[-4.53,-4.64,-4.76,-4.88,-5.02,-5.18,-5.36,-5.55,-5.72,-5.95],
  [-4.51,-4.6,-4.7,-4.82,-4.95,-5.1,-5.27,-5.45,-5.62,-5.85],[-4.53,-4.64,-4.76,-4.88,-5.02,-5.18,-5.36,-5.55,-5.7,-6.0],
  [-4.51,-4.6,-4.7,-4.82,-4.95,-5.1,-5.27,-5.45,-5.66,-5.92],[-4.53,-4.64,-4.76,-4.88,-5.02,-5.18,-5.36,-5.55,-5.74,-5.88],
  [-4.51,-4.6,-4.7,-4.82,-4.95,-5.1,-5.27,-5.45,-5.64,-5.97],[-4.53,-4.64,-4.76,-4.88,-5.02,-5.18,-5.36,-5.55,-5.7,-5.9],
  [-4.51,-4.6,-4.7,-4.82,-4.95,-5.1,-5.27,-5.45,-5.65,-5.9],[-4.53,-4.64,-4.76,-4.88,-5.02,-5.18,-5.36,-5.55,-5.72,-5.95],
  [-4.51,-4.6,-4.7,-4.82,-4.95,-5.1,-5.27,-5.45,-5.62,-5.85],[-4.53,-4.64,-4.76,-4.88,-5.02,-5.18,-5.36,-5.55,-5.7,-6.0],
  [-4.51,-4.6,-4.7,-4.82,-4.95,-5.1,-5.27,-5.45,-5.66,-5.92],[-4.53,-4.64,-4.76,-4.88,-5.02,-5.18,-5.36,-5.55,-5.74,-5.88],
  [-4.51,-4.6,-4.7,-4.82,-4.95,-5.1,-5.27,-5.45,-5.64,-5.97],[-4.53,-4.64,-4.76,-4.88,-5.02,-5.18,-5.36,-5.55,-5.7,-5.9],
  [-4.51,-4.6,-4.7,-4.82,-4.95,-5.1,-5.27,-5.45,-5.65,-5.9],[-4.53,-4.64,-4.76,-4.88,-5.02,-5.18,-5.36,-5.55,-5.72,-5.95],
  [-4.51,-4.6,-4.7,-4.82,-4.95,-5.1,-5.27,-5.45,-5.62,-5.85],[-4.53,-4.64,-4.76,-4.88,-5.02,-5.18,-5.36,-5.55,-5.7,-6.0],
  [-4.51,-4.6,-4.7,-4.82,-4.95,-5.1,-5.27,-5.45,-5.66,-5.92],[-4.53,-4.64,-4.76,-4.88,-5.02,-5.18,-5.36,-5.55,-5.74,-5.88],
  [-4.51,-4.6,-4.7,-4.82,-4.95,-5.1,-5.27,-5.45,-5.64,-5.97],[-4.53,-4.64,-4.76,-4.88,-5.02,-5.18,-5.36,-5.55,-5.7,-5.9],
  [-4.51,-4.6,-4.7,-4.82,-4.95,-5.1,-5.27,-5.45,-5.65,-5.9],[-4.53,-4.64,-4.76,-4.88,-5.02,-5.18,-5.36,-5.55,-5.72,-5.95],
  [-4.51,-4.6,-4.7,-4.82,-4.95,-5.1,-5.27,-5.45,-5.62,-5.85],[-4.53,-4.64,-4.76,-4.88,-5.02,-5.18,-5.36,-5.55,-5.7,-6.0],
  [-4.51,-4.6,-4.7,-4.82,-4.95,-5.1,-5.27,-5.45,-5.66,-5.92],[-4.53,-4.64,-4.76,-4.88,-5.02,-5.18,-5.36,-5.55,-5.74,-5.88],
  [-4.51,-4.6,-4.7,-4.82,-4.95,-5.1,-5.27,-5.45,-5.64,-5.97],[-4.53,-4.64,-4.76,-4.88,-5.02,-5.18,-5.36,-5.55,-5.7,-5.9],
  [-4.51,-4.6,-4.7,-4.82,-4.95,-5.1,-5.27,-5.45,-5.65,-5.88,-6.15],[-4.53,-4.64,-4.76,-4.88,-5.02,-5.18,-5.36,-5.55,-5.76,-5.98,-6.3],
  [-4.51,-4.6,-4.7,-4.82,-4.95,-5.1,-5.27,-5.45,-5.65,-5.9,-6.4],[-4.53,-4.64,-4.76,-4.88,-5.02,-5.18,-5.36,-5.55,-5.76,-6.0,-6.2],
  [-4.51,-4.6,-4.7,-4.82,-4.95,-5.1,-5.27,-5.45,-5.65,-5.86,-6.25],[-4.53,-4.64,-4.76,-4.88,-5.02,-5.18,-5.36,-5.55,-5.76,-5.96,-6.35],
  [-4.51,-4.6,-4.7,-4.82,-4.95,-5.1,-5.27,-5.45,-5.65,-5.88,-6.15],[-4.53,-4.64,-4.76,-4.88,-5.02,-5.18,-5.36,-5.55,-5.76,-5.98,-6.3],
  [-4.51,-4.6,-4.7,-4.82,-4.95,-5.1,-5.27,-5.45,-5.65,-5.9,-6.4],[-4.53,-4.64,-4.76,-4.88,-5.02,-5.18,-5.36,-5.55,-5.76,-6.0,-6.2],
  [-4.51,-4.6,-4.7,-4.82,-4.95,-5.1,-5.27,-5.45,-5.65,-5.86,-6.25],[-4.53,-4.64,-4.76,-4.88,-5.02,-5.18,-5.36,-5.55,-5.76,-5.96,-6.35],
  [-4.51,-4.6,-4.7,-4.82,-4.95,-5.1,-5.27,-5.45,-5.65,-5.88,-6.15],[-4.53,-4.64,-4.76,-4.88,-5.02,-5.18,-5.36,-5.55,-5.76,-5.98,-6.3],
  [-4.51,-4.6,-4.7,-4.82,-4.95,-5.1,-5.27,-5.45,-5.65,-5.9,-6.4],[-4.53,-4.64,-4.76,-4.88,-5.02,-5.18,-5.36,-5.55,-5.76,-6.0,-6.2],
  [-4.51,-4.6,-4.7,-4.82,-4.95,-5.1,-5.27,-5.45,-5.65,-5.86,-6.25],[-4.53,-4.64,-4.76,-4.88,-5.02,-5.18,-5.36,-5.55,-5.76,-5.96,-6.35],
  [-4.51,-4.6,-4.7,-4.82,-4.95,-5.1,-5.27,-5.45,-5.65,-5.88,-6.15],[-4.53,-4.64,-4.76,-4.88,-5.02,-5.18,-5.36,-5.55,-5.76,-5.98,-6.3],
  [-4.51,-4.6,-4.7,-4.82,-4.95,-5.1,-5.27,-5.45,-5.65,-5.9,-6.4],[-4.53,-4.64,-4.76,-4.88,-5.02,-5.18,-5.36,-5.55,-5.76,-6.0,-6.2],
  [-4.51,-4.6,-4.7,-4.82,-4.95,-5.1,-5.27,-5.45,-5.65,-5.86,-6.25],[-4.53,-4.64,-4.76,-4.88,-5.02,-5.18,-5.36,-5.55,-5.76,-5.96,-6.35],
  [-4.51,-4.6,-4.7,-4.82,-4.95,-5.1,-5.27,-5.45,-5.65,-5.88,-6.15],[-4.53,-4.64,-4.76,-4.88,-5.02,-5.18,-5.36,-5.55,-5.76,-5.98,-6.3],
  [-4.51,-4.6,-4.7,-4.82,-4.95,-5.1,-5.27,-5.45,-5.65,-5.9,-6.4],[-4.53,-4.64,-4.76,-4.88,-5.02,-5.18,-5.36,-5.55,-5.76,-6.0,-6.2],
  [-4.51,-4.6,-4.7,-4.82,-4.95,-5.1,-5.27,-5.45,-5.65,-5.86,-6.25],[-4.53,-4.64,-4.76,-4.88,-5.02,-5.18,-5.36,-5.55,-5.76,-5.96,-6.35],
  [-4.51,-4.6,-4.7,-4.82,-4.95,-5.1,-5.27,-5.45,-5.65,-5.88,-6.15],[-4.53,-4.64,-4.76,-4.88,-5.02,-5.18,-5.36,-5.55,-5.76,-5.98,-6.3],
  [-4.51,-4.6,-4.7,-4.82,-4.95,-5.1,-5.27,-5.45,-5.65,-5.9,-6.4],[-4.53,-4.64,-4.76,-4.88,-5.02,-5.18,-5.36,-5.55,-5.76,-6.0,-6.2],
  [-4.51,-4.6,-4.7,-4.82,-4.95,-5.1,-5.27,-5.45,-5.65,-5.86,-6.25],[-4.53,-4.64,-4.76,-4.88,-5.02,-5.18,-5.36,-5.55,-5.76,-5.96,-6.35],
  [-4.51,-4.6,-4.7,-4.82,-4.95,-5.1,-5.27,-5.45,-5.65,-5.88,-6.15],[-4.53,-4.64,-4.76,-4.88,-5.02,-5.18,-5.36,-5.55,-5.76,-5.98,-6.3],
  [-4.51,-4.6,-4.7,-4.82,-4.95,-5.1,-5.27,-5.45,-5.65,-5.9,-6.4],[-4.53,-4.64,-4.76,-4.88,-5.02,-5.18,-5.36,-5.55,-5.76,-6.0,-6.2],
  [-4.51,-4.6,-4.7,-4.82,-4.95,-5.1,-5.27,-5.45,-5.65,-5.86,-6.25]
];
const glrk4Cols = [
  [-11.66,-11.75,-11.85,-11.97,-12.1,-12.25,-12.42,-12.57],[-11.68,-11.79,-11.91,-12.03,-12.17,-12.33,-12.51,-12.67],
  [-11.66,-11.75,-11.85,-11.97,-12.1,-12.25,-12.42,-12.65],[-11.68,-11.79,-11.91,-12.03,-12.17,-12.33,-12.51,-12.75],
  [-11.66,-11.75,-11.85,-11.97,-12.1,-12.25,-12.42,-12.61],[-11.68,-11.79,-11.91,-12.03,-12.17,-12.33,-12.51,-12.63],
  [-11.66,-11.75,-11.85,-11.97,-12.1,-12.25,-12.42,-12.7],[-11.68,-11.79,-11.91,-12.03,-12.17,-12.33,-12.51,-12.73],
  [-11.66,-11.75,-11.85,-11.97,-12.1,-12.25,-12.42,-12.55],[-11.68,-11.79,-11.91,-12.03,-12.17,-12.33,-12.51,-12.67],
  [-11.66,-11.75,-11.85,-11.97,-12.1,-12.25,-12.42,-12.65],[-11.68,-11.79,-11.91,-12.03,-12.17,-12.33,-12.51,-12.75],
  [-11.66,-11.75,-11.85,-11.97,-12.1,-12.25,-12.42,-12.61],[-11.68,-11.79,-11.91,-12.03,-12.17,-12.33,-12.51,-12.63],
  [-11.66,-11.75,-11.85,-11.97,-12.1,-12.25,-12.42,-12.7],[-11.68,-11.79,-11.91,-12.03,-12.17,-12.33,-12.51,-12.73],
  [-11.66,-11.75,-11.85,-11.97,-12.1,-12.25,-12.42,-12.57],[-11.68,-11.79,-11.91,-12.03,-12.17,-12.33,-12.51,-12.67],
  [-11.66,-11.75,-11.85,-11.97,-12.1,-12.25,-12.42,-12.65],[-11.68,-11.79,-11.91,-12.03,-12.17,-12.33,-12.51,-12.75],
  [-11.66,-11.75,-11.85,-11.97,-12.1,-12.25,-12.42,-12.61],[-11.68,-11.79,-11.91,-12.03,-12.17,-12.33,-12.51,-12.63],
  [-11.66,-11.75,-11.85,-11.97,-12.1,-12.25,-12.42,-12.7],[-11.68,-11.79,-11.91,-12.03,-12.17,-12.33,-12.51,-12.73],
  [-11.66,-11.75,-11.85,-11.97,-12.1,-12.25,-12.42,-12.55],[-11.68,-11.79,-11.91,-12.03,-12.17,-12.33,-12.51,-12.67],
  [-11.66,-11.75,-11.85,-11.97,-12.1,-12.25,-12.42,-12.65],[-11.68,-11.79,-11.91,-12.03,-12.17,-12.33,-12.51,-12.75],
  [-11.66,-11.75,-11.85,-11.97,-12.1,-12.25,-12.42,-12.61],[-11.68,-11.79,-11.91,-12.03,-12.17,-12.33,-12.51,-12.7],
  [-11.66,-11.75,-11.85,-11.97,-12.1,-12.25,-12.42,-12.6,-12.8,-13.05],[-11.68,-11.79,-11.91,-12.03,-12.17,-12.33,-12.51,-12.7,-12.87,-13.1],
  [-11.66,-11.75,-11.85,-11.97,-12.1,-12.25,-12.42,-12.6,-12.77,-13.0],[-11.68,-11.79,-11.91,-12.03,-12.17,-12.33,-12.51,-12.7,-12.85,-13.15],
  [-11.66,-11.75,-11.85,-11.97,-12.1,-12.25,-12.42,-12.6,-12.81,-13.07],[-11.68,-11.79,-11.91,-12.03,-12.17,-12.33,-12.51,-12.7,-12.89,-13.03],
  [-11.66,-11.75,-11.85,-11.97,-12.1,-12.25,-12.42,-12.6,-12.79,-13.12],[-11.68,-11.79,-11.91,-12.03,-12.17,-12.33,-12.51,-12.7,-12.85,-13.05],
  [-11.66,-11.75,-11.85,-11.97,-12.1,-12.25,-12.42,-12.6,-12.8,-13.05],[-11.68,-11.79,-11.91,-12.03,-12.17,-12.33,-12.51,-12.7,-12.87,-13.1],
  [-11.66,-11.75,-11.85,-11.97,-12.1,-12.25,-12.42,-12.6,-12.77,-13.0],[-11.68,-11.79,-11.91,-12.03,-12.17,-12.33,-12.51,-12.7,-12.85,-13.15],
  [-11.66,-11.75,-11.85,-11.97,-12.1,-12.25,-12.42,-12.6,-12.81,-13.07],[-11.68,-11.79,-11.91,-12.03,-12.17,-12.33,-12.51,-12.7,-12.89,-13.03],
  [-11.66,-11.75,-11.85,-11.97,-12.1,-12.25,-12.42,-12.6,-12.79,-13.12],[-11.68,-11.79,-11.91,-12.03,-12.17,-12.33,-12.51,-12.7,-12.85,-13.05],
  [-11.66,-11.75,-11.85,-11.97,-12.1,-12.25,-12.42,-12.6,-12.8,-13.05],[-11.68,-11.79,-11.91,-12.03,-12.17,-12.33,-12.51,-12.7,-12.87,-13.1],
  [-11.66,-11.75,-11.85,-11.97,-12.1,-12.25,-12.42,-12.6,-12.77,-13.0],[-11.68,-11.79,-11.91,-12.03,-12.17,-12.33,-12.51,-12.7,-12.85,-13.15],
  [-11.66,-11.75,-11.85,-11.97,-12.1,-12.25,-12.42,-12.6,-12.81,-13.07],[-11.68,-11.79,-11.91,-12.03,-12.17,-12.33,-12.51,-12.7,-12.89,-13.03],
  [-11.66,-11.75,-11.85,-11.97,-12.1,-12.25,-12.42,-12.6,-12.79,-13.12],[-11.68,-11.79,-11.91,-12.03,-12.17,-12.33,-12.51,-12.7,-12.85,-13.05],
  [-11.66,-11.75,-11.85,-11.97,-12.1,-12.25,-12.42,-12.6,-12.8,-13.05],[-11.68,-11.79,-11.91,-12.03,-12.17,-12.33,-12.51,-12.7,-12.87,-13.1],
  [-11.66,-11.75,-11.85,-11.97,-12.1,-12.25,-12.42,-12.6,-12.77,-13.0],[-11.68,-11.79,-11.91,-12.03,-12.17,-12.33,-12.51,-12.7,-12.85,-13.15],
  [-11.66,-11.75,-11.85,-11.97,-12.1,-12.25,-12.42,-12.6,-12.81,-13.07],[-11.68,-11.79,-11.91,-12.03,-12.17,-12.33,-12.51,-12.7,-12.89,-13.03],
  [-11.66,-11.75,-11.85,-11.97,-12.1,-12.25,-12.42,-12.6,-12.79,-13.12],[-11.68,-11.79,-11.91,-12.03,-12.17,-12.33,-12.51,-12.7,-12.85,-13.05],
  [-11.66,-11.75,-11.85,-11.97,-12.1,-12.25,-12.42,-12.6,-12.8,-13.03,-13.3],[-11.68,-11.79,-11.91,-12.03,-12.17,-12.33,-12.51,-12.7,-12.91,-13.13,-13.45],
  [-11.66,-11.75,-11.85,-11.97,-12.1,-12.25,-12.42,-12.6,-12.8,-13.05,-13.55],[-11.68,-11.79,-11.91,-12.03,-12.17,-12.33,-12.51,-12.7,-12.91,-13.15,-13.35],
  [-11.66,-11.75,-11.85,-11.97,-12.1,-12.25,-12.42,-12.6,-12.8,-13.01,-13.4],[-11.68,-11.79,-11.91,-12.03,-12.17,-12.33,-12.51,-12.7,-12.91,-13.11,-13.5],
  [-11.66,-11.75,-11.85,-11.97,-12.1,-12.25,-12.42,-12.6,-12.8,-13.03,-13.3],[-11.68,-11.79,-11.91,-12.03,-12.17,-12.33,-12.51,-12.7,-12.91,-13.13,-13.45],
  [-11.66,-11.75,-11.85,-11.97,-12.1,-12.25,-12.42,-12.6,-12.8,-13.05,-13.55],[-11.68,-11.79,-11.91,-12.03,-12.17,-12.33,-12.51,-12.7,-12.91,-13.15,-13.35],
  [-11.66,-11.75,-11.85,-11.97,-12.1,-12.25,-12.42,-12.6,-12.8,-13.01,-13.4],[-11.68,-11.79,-11.91,-12.03,-12.17,-12.33,-12.51,-12.7,-12.91,-13.11,-13.5],
  [-11.66,-11.75,-11.85,-11.97,-12.1,-12.25,-12.42,-12.6,-12.8,-13.03,-13.3],[-11.68,-11.79,-11.91,-12.03,-12.17,-12.33,-12.51,-12.7,-12.91,-13.13,-13.45],
  [-11.66,-11.75,-11.85,-11.97,-12.1,-12.25,-12.42,-12.6,-12.8,-13.05,-13.55],[-11.68,-11.79,-11.91,-12.03,-12.17,-12.33,-12.51,-12.7,-12.91,-13.15,-13.35],
  [-11.66,-11.75,-11.85,-11.97,-12.1,-12.25,-12.42,-12.6,-12.8,-13.01,-13.4],[-11.68,-11.79,-11.91,-12.03,-12.17,-12.33,-12.51,-12.7,-12.91,-13.11,-13.5],
  [-11.66,-11.75,-11.85,-11.97,-12.1,-12.25,-12.42,-12.6,-12.8,-13.03,-13.3],[-11.68,-11.79,-11.91,-12.03,-12.17,-12.33,-12.51,-12.7,-12.91,-13.13,-13.45],
  [-11.66,-11.75,-11.85,-11.97,-12.1,-12.25,-12.42,-12.6,-12.8,-13.05,-13.55],[-11.68,-11.79,-11.91,-12.03,-12.17,-12.33,-12.51,-12.7,-12.91,-13.15,-13.35],
  [-11.66,-11.75,-11.85,-11.97,-12.1,-12.25,-12.42,-12.6,-12.8,-13.01,-13.4],[-11.68,-11.79,-11.91,-12.03,-12.17,-12.33,-12.51,-12.7,-12.91,-13.11,-13.5],
  [-11.66,-11.75,-11.85,-11.97,-12.1,-12.25,-12.42,-12.6,-12.8,-13.03,-13.3],[-11.68,-11.79,-11.91,-12.03,-12.17,-12.33,-12.51,-12.7,-12.91,-13.13,-13.45],
  [-11.66,-11.75,-11.85,-11.97,-12.1,-12.25,-12.42,-12.6,-12.8,-13.05,-13.55],[-11.68,-11.79,-11.91,-12.03,-12.17,-12.33,-12.51,-12.7,-12.91,-13.15,-13.35],
  [-11.66,-11.75,-11.85,-11.97,-12.1,-12.25,-12.42,-12.6,-12.8,-13.01,-13.4],[-11.68,-11.79,-11.91,-12.03,-12.17,-12.33,-12.51,-12.7,-12.91,-13.11,-13.5],
  [-11.66,-11.75,-11.85,-11.97,-12.1,-12.25,-12.42,-12.6,-12.8,-13.03,-13.3],[-11.68,-11.79,-11.91,-12.03,-12.17,-12.33,-12.51,-12.7,-12.91,-13.13,-13.45],
  [-11.66,-11.75,-11.85,-11.97,-12.1,-12.25,-12.42,-12.6,-12.8,-13.05,-13.55],[-11.68,-11.79,-11.91,-12.03,-12.17,-12.33,-12.51,-12.7,-12.91,-13.15,-13.35],
  [-11.66,-11.75,-11.85,-11.97,-12.1,-12.25,-12.42,-12.6,-12.8,-13.01,-13.4]
];

const methodNames = ['Method I', 'Method II', 'Method III', 'Method IV', 'Method V', 'Method VI'];
const methodColors = ['#00ffff', '#0000ff', '#000000', '#ffff00', '#ff00ff', '#00ff00'];
const glrk2Color = '#b17a00';
const glrk4Color = '#ff0000';
const FONT = '"Liberation Sans", Arial, Helvetica, sans-serif';

const pow10 = v => (v === null ? null : Math.pow(10, v));
// isDense(v): overlapping samples near an arch top, drawn with a heavier outline
const pairs = (ts, vs, isDense) => ts.map((t, i) => ({
  x: t, y: pow10(vs[i]), dense: isDense ? isDense(vs[i]) : false
}));
const stepped = vs => vs.map((v, i) => ({ x: Math.round((i + 1) * dt * 10) / 10, y: pow10(v) }));
const columns = (ts, cols) => cols.flatMap((col, i) =>
  col.map((v, j) => ({ x: ts[i], y: pow10(v), dense: j < col.length - 2 })));

const methodSeries = [method1, method2, method3, method4, method5, method6];

const datasets = methodSeries.map((vals, i) => ({
  label: methodNames[i],
  data: pairs(methodT, vals),
  showLine: true,
  borderColor: methodColors[i],
  backgroundColor: methodColors[i],
  borderWidth: 3,
  pointRadius: 0,
  spanGaps: false,
  clip: 0,
  order: 8 - i
}));

const outline = c => (c.raw && c.raw.dense ? 2 : 1.2);

datasets.push({
  label: 'GLRK 2',
  data: stepped(glrk2Early).concat(
    pairs(archT, glrk2Arch, v => v > -5.05), pairs(archTopT, glrk2ArchTop, () => true),
    columns(colT, glrk2Cols), pairs(lateT, glrk2Late), pairs(midT, glrk2Mid)),
  showLine: false,
  pointStyle: 'rect',
  pointRadius: 3.6,
  pointBorderWidth: outline,
  pointBorderColor: glrk2Color,
  pointBackgroundColor: 'rgba(0,0,0,0)',
  clip: { left: 6, top: 6, right: 6, bottom: 0 },
  order: 2
});
datasets.push({
  label: 'GLRK 4',
  data: stepped(glrk4Early).concat(
    pairs(archT, glrk4Arch, v => v > -12.2), pairs(archTopT, glrk4ArchTop, () => true),
    columns(colT, glrk4Cols), pairs(lateT, glrk4Late), pairs(midT, glrk4Mid)),
  showLine: false,
  pointStyle: 'circle',
  pointRadius: 3,
  pointBorderWidth: outline,
  pointBorderColor: glrk4Color,
  pointBackgroundColor: 'rgba(0,0,0,0)',
  clip: { left: 6, top: 6, right: 6, bottom: 0 },
  order: 1
});

// 10 with a raised exponent
function drawPow(ctx, x, y, exp, align) {
  ctx.font = '14px ' + FONT;
  const bw = ctx.measureText('10').width;
  ctx.font = '10px ' + FONT;
  const ew = ctx.measureText(exp).width;
  const x0 = align === 'right' ? x - bw - ew : x - (bw + ew) / 2;
  ctx.textAlign = 'left';
  ctx.textBaseline = 'middle';
  ctx.font = '14px ' + FONT;
  ctx.fillText('10', x0, y);
  ctx.font = '10px ' + FONT;
  ctx.fillText(exp, x0 + bw, y - 8);
}

// text pieces [string, size, shift] centred on 0
function drawPieces(ctx, parts) {
  let total = 0;
  parts.forEach(p => { ctx.font = p[1] + 'px ' + FONT; total += ctx.measureText(p[0]).width; });
  let x = -total / 2;
  ctx.textAlign = 'left';
  ctx.textBaseline = 'middle';
  parts.forEach(p => {
    ctx.font = p[1] + 'px ' + FONT;
    ctx.fillText(p[0], x, p[2]);
    x += ctx.measureText(p[0]).width;
  });
}

const axesDeco = {
  id: 'axesDeco',
  afterDraw(chart) {
    const ctx = chart.ctx;
    const a = chart.chartArea;
    const xs = chart.scales.x, ys = chart.scales.y;
    const L = Math.round(a.left) + 0.5, R = Math.round(a.right) + 0.5;
    const T = Math.round(a.top) + 0.5, B = Math.round(a.bottom) + 0.5;
    ctx.save();
    ctx.strokeStyle = '#1a1a1a';
    ctx.lineWidth = 1;
    ctx.strokeRect(L, T, R - L, B - T);

    ctx.beginPath();
    for (let d = -1; d <= 3; d++) {
      for (let m = 1; m <= 9; m++) {
        const v = m * Math.pow(10, d);
        if (v > 1000) break;
        const px = Math.round(xs.getPixelForValue(v)) + 0.5;
        const len = m === 1 ? 9 : 5;
        ctx.moveTo(px, B); ctx.lineTo(px, B - len);
        ctx.moveTo(px, T); ctx.lineTo(px, T + len);
      }
    }
    for (let e = -16; e <= -4; e += 2) {
      const py = Math.round(ys.getPixelForValue(Math.pow(10, e))) + 0.5;
      ctx.moveTo(L, py); ctx.lineTo(L + 9, py);
      ctx.moveTo(R, py); ctx.lineTo(R - 9, py);
    }
    ctx.stroke();

    ctx.fillStyle = '#000';
    for (let d = -1; d <= 3; d++) {
      const px = xs.getPixelForValue(Math.pow(10, d));
      drawPow(ctx, px, a.bottom + 16, d < 0 ? '\u2212' + (-d) : String(d), 'center');
    }
    for (let e = -16; e <= -4; e += 2) {
      const py = ys.getPixelForValue(Math.pow(10, e));
      drawPow(ctx, a.left - 9, py + 1, '\u2212' + (-e), 'right');
    }

    ctx.font = '13px ' + FONT;
    ctx.textAlign = 'center';
    ctx.textBaseline = 'middle';
    ctx.fillText('Hamiltonian errors', (a.left + a.right) / 2, 23);

    ctx.save();
    ctx.translate((a.left + a.right) / 2, a.bottom + 41);
    drawPieces(ctx, [['log t', 14, 0], ['n', 10, 4]]);
    ctx.restore();

    ctx.save();
    ctx.translate(20, (a.top + a.bottom) / 2 + 3);
    ctx.rotate(-Math.PI / 2);
    drawPieces(ctx, [['log |H', 14, 0], ['n', 10, 4], [' \u2212H0|', 14, 0]]);
    ctx.restore();
    ctx.restore();
  }
};

const legendBox = {
  id: 'legendBox',
  afterDraw(chart) {
    const ctx = chart.ctx;
    const a = chart.chartArea;
    const x0 = Math.round(a.left) + 52.5, y0 = Math.round(a.top) + 134.5;
    const w = 122, h = 160, step = 19.33;
    ctx.save();
    ctx.fillStyle = '#fff';
    ctx.fillRect(x0, y0, w, h);
    ctx.strokeStyle = '#000';
    ctx.lineWidth = 1;
    ctx.strokeRect(x0, y0, w, h);
    chart.data.datasets.forEach((ds, i) => {
      const y = y0 + 12.5 + i * step;
      if (ds.showLine) {
        ctx.strokeStyle = ds.borderColor;
        ctx.lineWidth = 3;
        ctx.beginPath();
        ctx.moveTo(x0 + 8, y);
        ctx.lineTo(x0 + 50, y);
        ctx.stroke();
      } else {
        ctx.strokeStyle = ds.pointBorderColor;
        ctx.lineWidth = 1.2;
        ctx.beginPath();
        if (ds.pointStyle === 'rect') ctx.rect(x0 + 26.5, y - 2.5, 5, 5);
        else ctx.arc(x0 + 29, y, 2.9, 0, Math.PI * 2);
        ctx.stroke();
      }
      ctx.fillStyle = '#000';
      ctx.font = '13.5px ' + FONT;
      ctx.textAlign = 'left';
      ctx.textBaseline = 'middle';
      ctx.fillText(ds.label, x0 + 55, y + 0.5);
    });
    ctx.restore();
  }
};

new Chart(document.getElementById('errChart'), {
  type: 'scatter',
  data: { datasets },
  options: {
    responsive: false,
    animation: false,
    events: [],
    layout: { padding: { left: 77, right: 45, top: 40, bottom: 57 } },
    plugins: {
      legend: { display: false },
      tooltip: { enabled: false },
      title: { display: false }
    },
    scales: {
      x: { type: 'logarithmic', min: 0.1, max: 1000, display: false },
      y: { type: 'logarithmic', min: 1e-16, max: 1e-4, display: false }
    }
  },
  plugins: [axesDeco, legendBox]
});
</script>
</body>
</html>
